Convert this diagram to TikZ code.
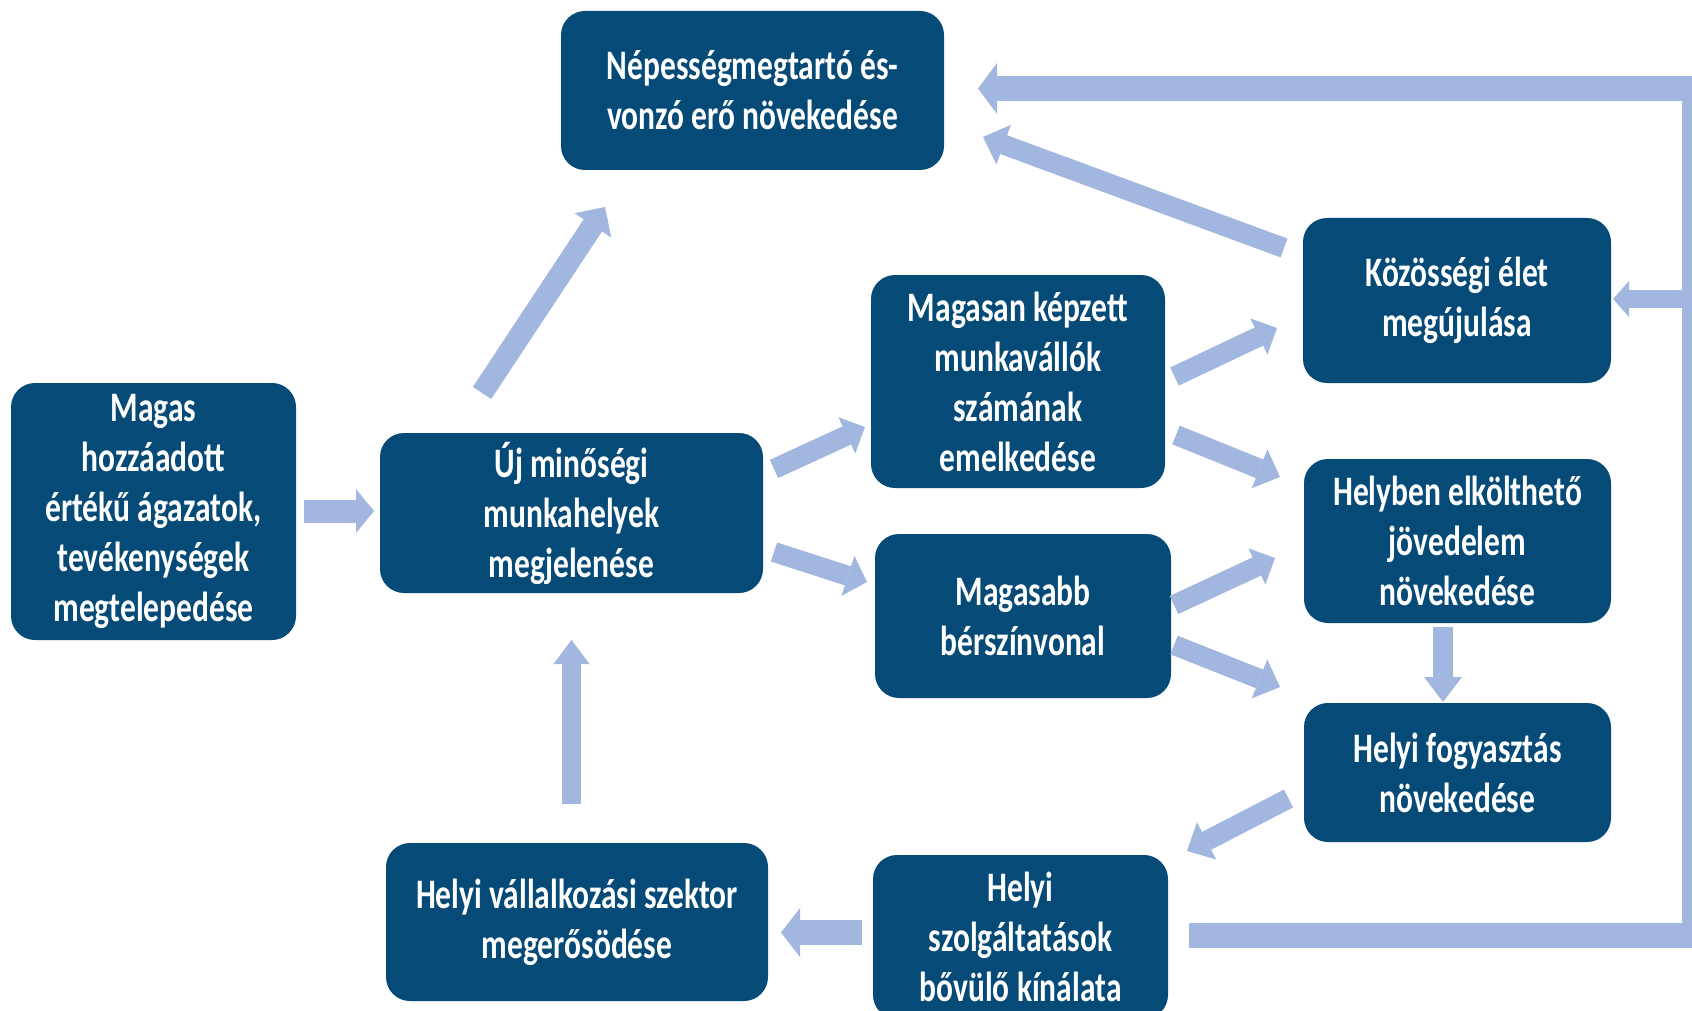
\documentclass[tikz,border=0pt]{standalone}
\usepackage{fontspec}
\newfontfamily\boxfont{Carlito}[FakeStretch=0.75]
\usetikzlibrary{arrows.meta}
\definecolor{boxblue}{HTML}{064B77}
\definecolor{arrowblue}{HTML}{A1B7E0}
\tikzset{
  box/.style={fill=boxblue, rounded corners=24pt, inner sep=0pt, text=white, align=center,
    font=\boxfont\bfseries\fontsize{42pt}{50pt}\selectfont},
  flow/.style args={#1/#2/#3}{draw=arrowblue, line width=#1, line join=miter,
    -{Triangle[length=#3, width=#2, line width=0pt]}},
}
\begin{document}
\begin{tikzpicture}[x=1pt, y=-1pt]
\useasboundingbox (0,0) rectangle (1692,1011);
\clip (0,0) rectangle (1692,1011);
\fill[white] (0,0) rectangle (1692,1011);

% boxes
\node[box, minimum width=285pt, minimum height=257pt] (A) at (153.5,511.5)
  {Magas\\hozzáadott\\értékű ágazatok,\\tevékenységek\\megtelepedése};
\node[box, minimum width=383pt, minimum height=160pt] (B) at (571.5,513)
  {Új minőségi\\munkahelyek\\megjelenése};
\node[box, minimum width=383pt, minimum height=159pt] (C) at (752.5,90.5)
  {Népességmegtartó és-\\vonzó erő növekedése};
\node[box, minimum width=294pt, minimum height=213pt] (D) at (1018,381.5)
  {Magasan képzett\\munkavállók\\számának\\emelkedése};
\node[box, minimum width=296pt, minimum height=164pt] (E) at (1023,616)
  {Magasabb\\bérszínvonal};
\node[box, minimum width=308pt, minimum height=165pt] (F) at (1457,300.5)
  {Közösségi élet\\megújulása};
\node[box, minimum width=307pt, minimum height=164pt] (G) at (1457.5,541)
  {Helyben elkölthető\\jövedelem\\növekedése};
\node[box, minimum width=307pt, minimum height=139pt] (H) at (1457.5,772.5)
  {Helyi fogyasztás\\növekedése};
\node[box, minimum width=295pt, minimum height=164pt] (I) at (1020.5,937)
  {Helyi\\szolgáltatások\\bővülő kínálata};
\node[box, minimum width=382pt, minimum height=158pt] (J) at (577,922)
  {Helyi vállalkozási szektor\\megerősödése};

% connector end points
\coordinate (ab1) at (304,511);    \coordinate (ab2) at (374,511);
\coordinate (bc1) at (482,393);    \coordinate (bc2) at (605,207);
\coordinate (bd1) at (774,469);    \coordinate (bd2) at (865,427);
\coordinate (be1) at (774,552);    \coordinate (be2) at (867,582);
\coordinate (df1) at (1174.5,376.5); \coordinate (df2) at (1277,328);
\coordinate (dg1) at (1176,435);   \coordinate (dg2) at (1280,477);
\coordinate (eg1) at (1174,605);   \coordinate (eg2) at (1275,558);
\coordinate (eh1) at (1174,645);   \coordinate (eh2) at (1280,687);
\coordinate (fc1) at (1284,248);   \coordinate (fc2) at (983,137);
\coordinate (gh1) at (1443,627);   \coordinate (gh2) at (1443,702);
\coordinate (hi1) at (1288.5,798.5); \coordinate (hi2) at (1187,851);
\coordinate (ij1) at (862,932.5);  \coordinate (ij2) at (781,932.5);
\coordinate (jb1) at (571.5,804);  \coordinate (jb2) at (571.5,640);
\coordinate (loop1) at (1189,935);
\coordinate (loopc1) at (1694,935);
\coordinate (loopc2) at (1694,88.5);
\coordinate (loop2) at (978,88.5);
\coordinate (lf1) at (1694,299);   \coordinate (lf2) at (1613,299);

% connectors
\draw[flow=23pt/44pt/18pt] (ab1) -- (ab2);
\draw[flow=22pt/44pt/22pt] (bc1) -- (bc2);
\draw[flow=20pt/40pt/20pt] (bd1) -- (bd2);
\draw[flow=20pt/42pt/20pt] (be1) -- (be2);
\draw[flow=20pt/40pt/20pt] (df1) -- (df2);
\draw[flow=20pt/42pt/22pt] (dg1) -- (dg2);
\draw[flow=20pt/40pt/20pt] (eg1) -- (eg2);
\draw[flow=20pt/42pt/22pt] (eh1) -- (eh2);
\draw[flow=20pt/42pt/22pt] (fc1) -- (fc2);
\draw[flow=20pt/38pt/25pt] (gh1) -- (gh2);
\draw[flow=20pt/42pt/22pt] (hi1) -- (hi2);
\draw[flow=25pt/49pt/19pt] (ij1) -- (ij2);
\draw[flow=19pt/36pt/24pt] (jb1) -- (jb2);
\draw[flow=18pt/36pt/16pt] (lf1) -- (lf2);
\draw[flow=25pt/51pt/19pt] (loop1) -- (loopc1) -- (loopc2) -- (loop2);
\end{tikzpicture}
\end{document}
